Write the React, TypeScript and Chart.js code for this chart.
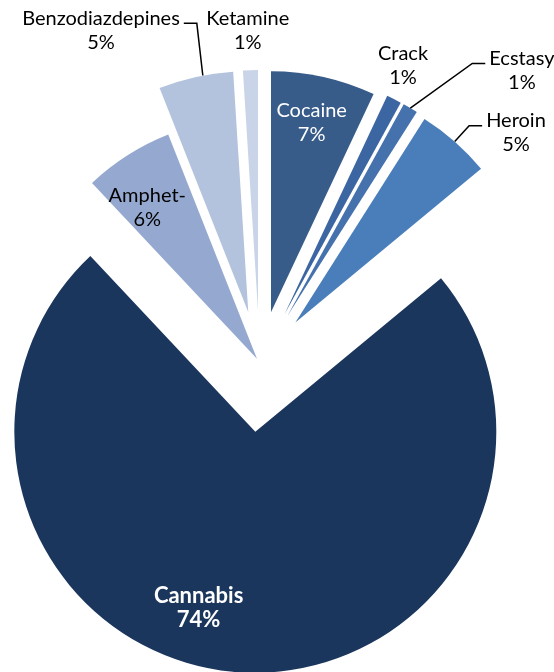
import React, { useEffect, useRef } from 'react';
import { Chart, registerables } from 'chart.js';

Chart.register(...registerables);

// ---- data ----
const categories = ['Cocaine', 'Crack', 'Ecstasy', 'Heroin', 'Cannabis', 'Amphet-', 'Benzodiazdepines', 'Ketamine'];
const shares = [7, 1, 1, 5, 74, 6, 5, 1];
const pctLabels = ['7%', '1%', '1%', '5%', '74%', '6%', '5%', '1%'];

// ---- styles ----
const colors = ['#375C8A', '#3C66A1', '#4571AD', '#4A7EBB', '#1B365D', '#95A9D0', '#B3C2DD', '#C9D4E8'];
const explode = [52, 55, 55, 54, 69, 5, 52, 52];
// [angle offset from slice mid (deg), distance from slice apex (px)]
const labelPlace: number[][] = [[-0.5, 194], [-1.5, 275], [13.1, 339], [7.9, 291], [14.2, 185.5], [-3.6, 186.6], [-15, 318], [-0.3, 281]];
const labelColor = ['#ffffff', '#000000', '#000000', '#000000', '#ffffff', '#000000', '#000000', '#000000'];
const labelBold = [false, false, false, false, true, false, false, false];
const leaderSide: (string | null)[] = [null, null, 'left', 'left', null, null, 'right', null];
const FONT = 'Lato, "Open Sans", sans-serif';
const FONT_SIZE = 20;
const BOLD_SIZE = 22;
const LINE_H = 24;

const explodedPiePlugin = {
  id: 'explodedPieDraw',
  beforeDatasetDraw(chart: any, args: any) {
    const ctx = chart.ctx;
    args.meta.data.forEach((el: any, i: number) => {
      const { x, y, startAngle, endAngle, outerRadius } = el;
      const mid = (startAngle + endAngle) / 2;
      const t = explode[i] || 0;
      const ax = x + Math.cos(mid) * t;
      const ay = y + Math.sin(mid) * t;
      ctx.save();
      ctx.beginPath();
      ctx.moveTo(ax, ay);
      ctx.arc(ax, ay, outerRadius, startAngle, endAngle);
      ctx.closePath();
      ctx.fillStyle = el.options.backgroundColor;
      ctx.fill();
      ctx.restore();
    });
    return false;
  },
  afterDatasetsDraw(chart: any) {
    const ctx = chart.ctx;
    const meta = chart.getDatasetMeta(0);
    meta.data.forEach((el: any, i: number) => {
      const { x, y, startAngle, endAngle, outerRadius } = el;
      const mid = (startAngle + endAngle) / 2;
      const t = explode[i] || 0;
      const ax = x + Math.cos(mid) * t;
      const ay = y + Math.sin(mid) * t;
      const th = mid + (labelPlace[i][0] * Math.PI) / 180;
      const cx = ax + Math.cos(th) * labelPlace[i][1];
      const cy = ay + Math.sin(th) * labelPlace[i][1];
      ctx.save();
      ctx.font = labelBold[i] ? `bold ${BOLD_SIZE}px ${FONT}` : `${FONT_SIZE}px ${FONT}`;
      ctx.fillStyle = labelColor[i];
      ctx.textAlign = 'center';
      ctx.textBaseline = 'middle';
      const y1 = cy - LINE_H / 2;
      const y2 = cy + LINE_H / 2;
      ctx.fillText(categories[i], cx, y1);
      ctx.fillText(pctLabels[i], cx, y2);
      const side = leaderSide[i];
      if (side) {
        const w1 = ctx.measureText(categories[i]).width;
        const ly = y1 + 5;
        const p0x = side === 'left' ? cx - w1 / 2 - 4 : cx + w1 / 2 + 4;
        const p1x = side === 'left' ? p0x - 13 : p0x + 13;
        const ex = ax + Math.cos(mid + (side === 'right' ? 0.03 : 0)) * outerRadius;
        const ey = ay + Math.sin(mid + (side === 'right' ? 0.03 : 0)) * outerRadius;
        ctx.beginPath();
        ctx.moveTo(p0x, ly);
        ctx.lineTo(p1x, ly);
        ctx.lineTo(ex, ey);
        ctx.strokeStyle = '#000000';
        ctx.lineWidth = 1.5;
        ctx.stroke();
      }
      ctx.restore();
    });
  },
};

export default function App() {
  const ref = useRef<HTMLCanvasElement | null>(null);
  useEffect(() => {
    if (!ref.current) return;
    const chart = new Chart(ref.current, {
      type: 'pie',
      data: {
        labels: categories,
        datasets: [
          {
            data: shares,
            backgroundColor: colors,
            borderWidth: 0,
            radius: 241,
          } as any,
        ],
      },
      options: {
        responsive: false,
        animation: false,
        events: [],
        rotation: 0,
        layout: { padding: { left: 0, right: 34.7, top: 53.8, bottom: 0 } },
        plugins: { legend: { display: false }, tooltip: { enabled: false } },
      } as any,
      plugins: [explodedPiePlugin],
    });
    if ((document as any).fonts) {
      (document as any).fonts.load(`${FONT_SIZE}px Lato`).then(() => chart.draw()).catch(() => {});
      (document as any).fonts.load(`bold ${BOLD_SIZE}px Lato`).then(() => chart.draw()).catch(() => {});
    }
    return () => chart.destroy();
  }, []);
  return (
    <div style={{ position: 'absolute', left: 0, top: 0, width: 554, height: 672, background: '#fff' }}>
      <canvas ref={ref} width={554} height={672} style={{ display: 'block' }} />
    </div>
  );
}
